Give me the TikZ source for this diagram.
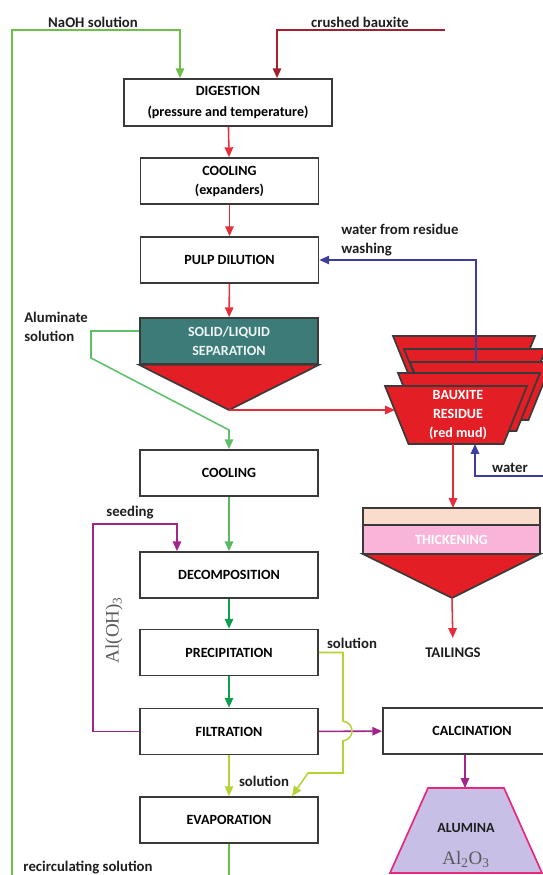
\documentclass[tikz,border=0pt]{standalone}
\usepackage{fontspec}
\setmainfont{Carlito}
\newfontfamily\chemfont{Liberation Serif}
\usepackage{tikz}
\usetikzlibrary{arrows.meta, positioning}
\definecolor{boxgray}{HTML}{3A3A3A}
\definecolor{labelblack}{HTML}{1E1E1E}
\definecolor{chemgray}{HTML}{5A5A5A}
\definecolor{naohgreen}{HTML}{6CBF47}
\definecolor{bauxred}{HTML}{A3202E}
\definecolor{flowred}{HTML}{E52E3A}
\definecolor{septeal}{HTML}{3C7B78}
\definecolor{mudred}{HTML}{E31E24}
\definecolor{washblue}{HTML}{3D3D9E}
\definecolor{algreen}{HTML}{5DBF6A}
\definecolor{coolgreen}{HTML}{5BB862}
\definecolor{dkgreen}{HTML}{0E9E4C}
\definecolor{solnlime}{HTML}{B4D335}
\definecolor{ohpurple}{HTML}{A3248A}
\definecolor{lavender}{HTML}{C7BFE6}
\definecolor{almagenta}{HTML}{E8287F}
\definecolor{peach}{HTML}{FADCCC}
\definecolor{thkpink}{HTML}{F8B4D9}
\tikzset{
>={Triangle[length=7pt,width=6pt]}, % filled arrow heads
box/.style={draw=boxgray, line width=1.2pt, fill=white, minimum width=4.45cm, minimum height=1.15cm,
  align=center, inner sep=0pt, font=\bfseries\fontsize{10}{13.5}\selectfont}, % process boxes
lbl/.style={font=\bfseries\fontsize{10.5}{13}\selectfont, text=labelblack, inner sep=0pt}, % stream labels
chem/.style={font=\chemfont\fontsize{13.5}{14}\selectfont, text=chemgray, inner sep=0pt}, % formulas
mudfill/.style={fill=mudred, draw=boxgray, line width=1.2pt}, % red settler bodies
flow/.style={line width=1.1pt, ->}, % every stream
redflow/.style={flow, flowred},
}
% one washer of the residue train, centred at (#1,#2)
\newcommand\mudlayer[2]{\filldraw[mudfill] (#1-71,#2-29) -- (#1+71,#2-29) -- (#1+47.5,#2+29) -- (#1-47.5,#2+29) -- cycle;}

\begin{document}
\begin{tikzpicture}[x=0.025cm, y=-0.025cm]
    \useasboundingbox (0,0) rectangle (542,875);

    % main column
    \node[box, minimum width=5.2cm, minimum height=1.175cm] (dig) at (228,102.5) {DIGESTION\\[2pt](pressure and temperature)};
    \node[box] (coolA) at (229.5,181) {COOLING\\(expanders)};
    \node[box] (pulp) at (229.5,260) {PULP DILUTION};
    \node[box, fill=septeal, text=white!92!septeal] (sep) at (229,341) {SOLID/LIQUID\\SEPARATION};
    \coordinate (sepapex) at (229,410);
    \filldraw[mudfill] (sep.south west) -- (sep.south east) -- (sepapex) -- cycle;
    \node[box] (cool) at (229,473) {COOLING};
    \node[box] (decomp) at (229,575) {DECOMPOSITION};
    \node[box] (precip) at (229,652.5) {PRECIPITATION};
    \node[box] (filt) at (229,731.5) {FILTRATION};
    \node[box] (evap) at (229,820) {EVAPORATION};

    % residue side
    \mudlayer{464}{365}
    \mudlayer{475}{378}
    \mudlayer{481}{391}
    \mudlayer{469}{402}
    \mudlayer{456}{415}
    \node[align=center, text=white, font=\bfseries\fontsize{10}{13.5}\selectfont] (mud) at (458,415) {BAUXITE\\RESIDUE\\(red mud)};
    \coordinate (mudin) at (395,410);
    \coordinate (mudout) at (453,444);
    \coordinate (mudwater) at (475,444);
    \node[box, fill=thkpink, text=white, minimum width=4.425cm, minimum height=0.725cm, outer sep=0pt] (thick) at (451.5,539.5) {THICKENING};
    \node[box, fill=peach, minimum width=4.425cm, minimum height=0.425cm, outer sep=0pt, above=0pt of thick] (thktop) {};
    \coordinate (thkapex) at (452,598);
    \filldraw[mudfill] (thick.south west) -- (thick.south east) -- (thkapex) -- cycle;
    \node[lbl] (tail) at (453,653) {TAILINGS};

    % product side
    \node[box] (calc) at (472,731) {CALCINATION};
    \filldraw[fill=lavender, draw=almagenta, line width=1.2pt] (428,788) -- (504,788) -- (542,873) -- (390,873) -- cycle;
    \coordinate (alumtop) at (465,788);
    \node[font=\bfseries\fontsize{10}{13}\selectfont, text=labelblack, inner sep=0pt] (alumina) at (466,828) {ALUMINA};
    \node[chem] (al2o3) at (466,859) {Al\textsubscript{2}O\textsubscript{3}};

    % labels
    \node[lbl] (naohlbl) at (93,22) {NaOH solution};
    \node[lbl] (bxlbl) at (360,22) {crushed bauxite};
    \node[lbl, anchor=west, align=left] (washlbl) at (341,240) {water from residue\\washing};
    \node[lbl, anchor=west, align=left] (allbl) at (24,327) {Aluminate\\solution};
    \node[lbl] (seedlbl) at (130,513) {seeding};
    \node[chem, rotate=90] (ohlbl) at (114,630) {Al(OH)\textsubscript{3}};
    \node[lbl] (sol1lbl) at (352,643) {solution};
    \node[lbl] (sol2lbl) at (264,781) {solution};
    \node[lbl] (waterlbl) at (510,468) {water};
    \node[lbl] (recirclbl) at (88,868) {recirculating solution};

    \coordinate (bxin) at (445,30);
    \coordinate (washout) at (476,362);
    \coordinate (waterin) at (560,476);

    % streams
    \draw[flow, naohgreen] (evap.south) -- (229,900) -| (12,30) -| ([xshift=-1.2cm]dig.north);
    \draw[flow, bauxred] (bxin) -| ([xshift=1.225cm]dig.north);
    \draw (dig) edge[redflow] (coolA)
          (coolA) edge[redflow] (pulp)
          (pulp) edge[redflow] (sep);
    \draw[flow, washblue] (washout) |- (pulp.east);
    \draw[flow, algreen] ([yshift=0.25cm]sep.west) -- (91,331) -- (91,358) -- (229,430) -- (cool.north);
    \draw[redflow] (sepapex) -- (mudin);
    \draw[redflow] (mudout) -- (thktop.north -| mudout);
    \draw[flow, washblue] (waterin) -| (mudwater);
    \draw[redflow, shorten >=7pt] (thkapex) -- (tail.north);
    \draw[flow, coolgreen] (cool) -- (decomp);
    \draw (decomp) edge[flow, dkgreen] (precip)
          (precip) edge[flow, dkgreen] (filt);
    \draw[flow, ohpurple] (filt.west) -- (93,731.5) -- (93,524) -| ([xshift=-1.3cm]decomp.north);
    \draw[flow, ohpurple] (filt) -- (calc);
    \draw[flow, solnlime] (precip.east) -| (343,721) .. controls (355,723) and (355,739) .. (343,741)
          |- (308,773) -- ([xshift=1.575cm]evap.north);
    \draw[flow, solnlime] (filt) -- (evap);
    \draw[flow, ohpurple] (calc.south -| alumtop) -- (alumtop);
\end{tikzpicture}
\end{document}
